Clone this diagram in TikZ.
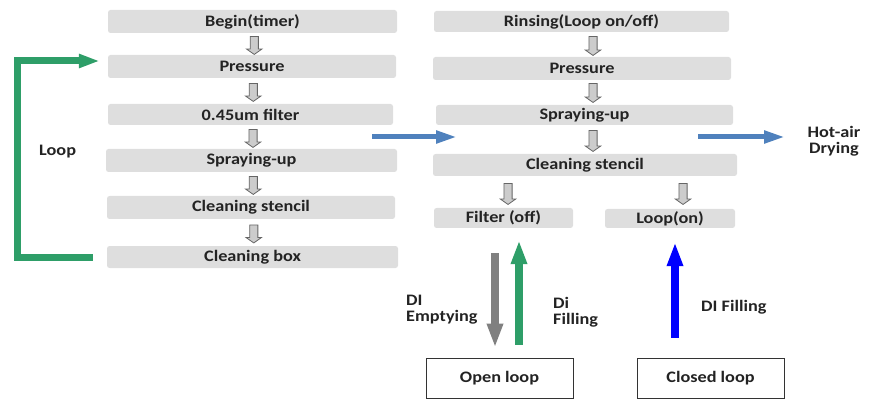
\documentclass[tikz,border=0pt]{standalone}
\usepackage{fontspec}
\setmainfont{Carlito}[FakeStretch=1.14]
\usetikzlibrary{shapes.arrows,arrows.meta,calc}
\definecolor{boxgray}{RGB}{222,222,222}
\definecolor{loopgreen}{RGB}{46,158,104}
\definecolor{midblue}{RGB}{79,129,189}
\definecolor{txt}{RGB}{35,35,35}
\begin{document}
\begin{tikzpicture}[x=1pt,y=-1pt,
  every node/.style={font=\fontsize{16}{17}\selectfont\bfseries, text=txt},
  stepbox/.style={fill=boxgray, rounded corners=2.5pt, inner sep=0pt, minimum height=22pt},
  hollow/.style={single arrow, shape border rotate=270, draw=black!60, fill=black!20,
     line width=0.8pt, inner sep=3.7pt, single arrow head extend=3.6pt, single arrow tip angle=110},
  loopline/.style={draw=loopgreen, line width=7pt, -{Triangle[length=21pt,width=13pt]}},
  midarrow/.style={draw=midblue, line width=5pt, -{Triangle[length=21pt,width=12pt]}},
  vertarrow/.style={line width=7.5pt, -{Triangle[length=24pt,width=15pt]}},
  loopbox/.style={draw=black!80, line width=0.8pt, minimum width=147pt, minimum height=40pt, inner sep=0pt},
  lbl/.style={align=left, anchor=west, inner sep=0pt}
]
\useasboundingbox (0,0) rectangle (878,406);
% left column
\node[stepbox, minimum width=289pt, minimum height=23pt] (b1) at (252.5,21.5) {Begin(timer)};
\node[stepbox, minimum width=288pt, minimum height=23pt] (b2) at (252,66.5) {Pressure};
\node[stepbox, minimum width=285pt, minimum height=21pt] (b3) at (250.5,114.5) {0.45um filter};
\node[stepbox, minimum width=291pt, minimum height=23pt] (b4) at (251.5,160.5) {Spraying-up};
\node[stepbox, minimum width=288pt, minimum height=23pt] (b5) at (251,207.5) {Cleaning stencil};
\node[stepbox, minimum width=291pt, minimum height=22pt] (b6) at (252.5,257) {Cleaning box};
\foreach \a/\b in {b1/b2,b2/b3,b3/b4,b4/b5,b5/b6}{
  \node[hollow, minimum height=18pt] (h\a) at ($(\a.south)!0.5!(\b.north) + (2,0)$) {};
}
% loop
\draw[loopline] ([xshift=-14pt]b6.west) -| (17,61) -- ([xshift=-8pt]b2.west |- 0,61);
\node[lbl] (looplbl) at (39,152) {Loop};
% right column
\node[stepbox, minimum width=295pt, minimum height=21pt] (r1) at (581.5,21.5) {Rinsing(Loop on/off)};
\node[stepbox, minimum width=298pt, minimum height=23pt] (r2) at (582,68.5) {Pressure};
\node[stepbox, minimum width=297pt, minimum height=20pt] (r3) at (584.5,115) {Spraying-up};
\node[stepbox, minimum width=304pt, minimum height=22pt] (r4) at (585,165) {Cleaning stencil};
\node[stepbox, minimum width=139pt, minimum height=20pt] (r5) at (503.5,218) {Filter (off)};
\node[stepbox, minimum width=130pt, minimum height=19pt] (r6) at (670,218.5) {Loop(on)};
\node[hollow, minimum height=19pt] (hr1) at (593,44.5) {};
\node[hollow, minimum height=19pt] (hr2) at (593,91.5) {};
\node[hollow, minimum height=21pt] (hr3) at (593,139.5) {};
\node[hollow, minimum height=21pt] (hr4) at (508,192.5) {};
\node[hollow, minimum height=21pt] (hr5) at (683,192.5) {};
% blue arrows
\coordinate (m1) at (372,137);
\coordinate (m2) at (457,137);
\draw[midarrow] (m1) -- (m2);
\coordinate (m3) at (698,137);
\coordinate (m4) at (785,137);
\draw[midarrow] (m3) -- (m4);
\node[align=center, inner sep=0pt] (hot) at (834,141) {Hot-air\\[-1pt]Drying};
% bottom
\node[loopbox] (ol) at (499.5,378) {Open loop};
\node[loopbox] (cl) at (710.5,378) {Closed loop};
\draw[vertarrow, draw=black!50] ([shift={(-8.5,25)}]r5.south) -- ([shift={(-4.5,-10)}]ol.north);
\draw[vertarrow, draw=loopgreen] ([shift={(19.5,-13)}]ol.north) -- ([shift={(15.5,12)}]r5.south);
\draw[vertarrow, draw=blue] ([shift={(-35.5,-20)}]cl.north) -- ([shift={(5,14)}]r6.south);
\node[lbl] (de) at (406,310) {DI\\[-1pt]Emptying};
\node[lbl] (df) at (553,312) {Di\\[-1pt]Filling};
\node[lbl] (df2) at (701,307) {DI Filling};
\end{tikzpicture}
\end{document}
